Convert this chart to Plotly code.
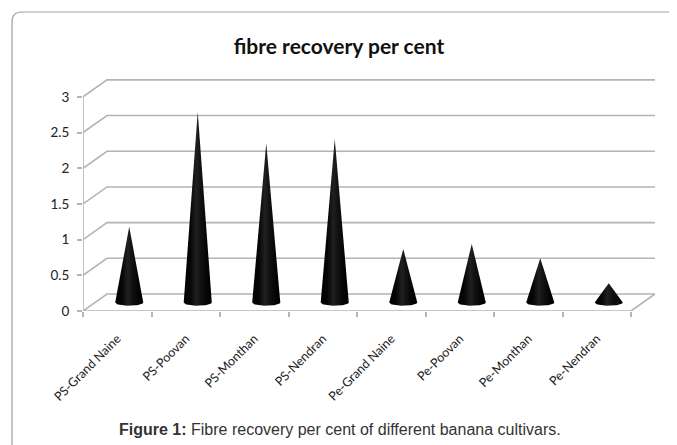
import numpy as np
import plotly.graph_objects as go

# ---- data ----
categories = ["PS-Grand Naine", "PS-Poovan", "PS-Monthan", "PS-Nendran",
              "Pe-Grand Naine", "Pe-Poovan", "Pe-Monthan", "Pe-Nendran"]
fibre_recovery = [1.06, 2.67, 2.23, 2.29, 0.75, 0.82, 0.62, 0.27]
y_ticks = [0, 0.5, 1, 1.5, 2, 2.5, 3]
y_tick_labels = ["0", "0.5", "1", "1.5", "2", "2.5", "3"]

# ---- geometry (3-D look) ----
OFF = 8                      # page body margin in the browser
W, H = 677 - OFF, 445 - OFF
ML, MR, MT, MB = 83 - OFF, 22, 79 - OFF, 104
PH = H - MT - MB             # paper (plotting) height
AXIS_Y = 311                 # reference pixel of the value-0 front edge
LABEL_Y = 328                # reference pixel of the label axis
n = len(categories)
DX = 0.35     # depth offset, category units
DY = 0.238    # depth offset, value units
X_MAX = n + DX
Y_MAX = 3.25
GRID = "#b4b4b4"


def Y(py):
    return (H - MB - (py - OFF)) / PH


def X(px):
    return (px - OFF - ML) / (W - ML - MR)


fig = go.Figure()

# back-wall gridlines with slanted left part
for v in y_ticks:
    fig.add_trace(go.Scatter(x=[0, DX, X_MAX], y=[v, v + DY, v + DY],
                             mode="lines", line=dict(color=GRID, width=1.6),
                             hoverinfo="skip", showlegend=False))
# floor front edge + right edge
fig.add_trace(go.Scatter(x=[0, n, n + DX], y=[0, 0, DY], mode="lines",
                         line=dict(color=GRID, width=1.6),
                         hoverinfo="skip", showlegend=False))
# front vertical axis line
fig.add_trace(go.Scatter(x=[0, 0], y=[0, max(y_ticks)], mode="lines",
                         line=dict(color=GRID, width=1.6),
                         hoverinfo="skip", showlegend=False))

# cones
half_w = 0.205
ell_h = 0.045
t = np.linspace(0, np.pi, 30)
for i, v in enumerate(fibre_recovery):
    cx = i + 0.5 + DX / 2
    by = DY / 2
    xs = [cx - half_w, cx, cx + half_w] + list(cx + half_w * np.cos(t))
    ys = [by, by + v, by] + list(by - ell_h * np.sin(t))
    fig.add_trace(go.Scatter(
        x=xs, y=ys, mode="lines", fill="toself",
        line=dict(color="rgba(0,0,0,0)", width=0),
        fillcolor="#000000",
        fillgradient=dict(type="horizontal",
                          colorscale=[[0, "#000000"], [0.25, "#070707"],
                                      [0.45, "#202020"], [0.6, "#121212"],
                                      [0.85, "#030303"], [1, "#000000"]]),
        hoverinfo="skip", showlegend=False))

# invisible trace carrying the category-label axis
fig.add_trace(go.Scatter(x=[i + 0.5 for i in range(n)], y=[0] * n, xaxis="x2",
                         mode="markers", marker=dict(opacity=0),
                         hoverinfo="skip", showlegend=False))

fig.update_layout(
    width=W, height=H,
    margin=dict(l=ML, r=MR, t=MT, b=MB),
    paper_bgcolor="white", plot_bgcolor="rgba(0,0,0,0)",
    title=dict(text="<b>fibre recovery per cent</b>", x=(339 - OFF) / W, xref="container",
               y=1 - (47 - OFF) / H, yref="container", xanchor="center", yanchor="middle",
               font=dict(family="Lato", size=21, color="#111111")),
    xaxis=dict(range=[0, X_MAX], showgrid=False, zeroline=False, showline=False,
               showticklabels=False, ticks="",
               tickmode="array", tickvals=[i + 0.5 for i in range(n)],
               minor=dict(tickmode="array", tickvals=list(range(n + 1)),
                          ticks="outside", ticklen=5, tickcolor=GRID, tickwidth=1.5,
                          showgrid=False),
               fixedrange=True),
    xaxis2=dict(range=[0, X_MAX], overlaying="x", anchor="free", position=Y(LABEL_Y),
                showgrid=False, zeroline=False, showline=False,
                tickmode="array", tickvals=[i + 0.5 for i in range(n)],
                ticktext=categories, tickangle=-45, ticks="",
                tickfont=dict(family="Lato", size=12.5, color="#222222"),
                fixedrange=True),
    yaxis=dict(range=[0, Y_MAX], domain=[Y(AXIS_Y), 1],
               showgrid=False, zeroline=False, showline=False,
               tickmode="array", tickvals=y_ticks, ticktext=y_tick_labels,
               ticks="outside", ticklen=5, tickcolor=GRID, tickwidth=1.5,
               ticklabelstandoff=5,
               tickfont=dict(family="Lato", size=13.5, color="#222222"),
               fixedrange=True),
)

# outer rounded frame (extends past right/bottom edge)
fig.add_shape(type="path", xref="paper", yref="paper",
              path=f"M {X(12)},{Y(470)} L {X(12)},{Y(22)} Q {X(12)},{Y(12)} {X(22)},{Y(12)} L {X(700)},{Y(12)}",
              line=dict(color="#a0a0a0", width=1.2))

fig.add_annotation(text="<b>Figure 1:</b> Fibre recovery per cent of different banana cultivars.",
                   xref="paper", yref="paper", x=X(340), y=Y(429),
                   xanchor="center", yanchor="middle", showarrow=False,
                   font=dict(family="Liberation Sans, Arial", size=16, color="#333333"))

fig.write_html("out.html")
